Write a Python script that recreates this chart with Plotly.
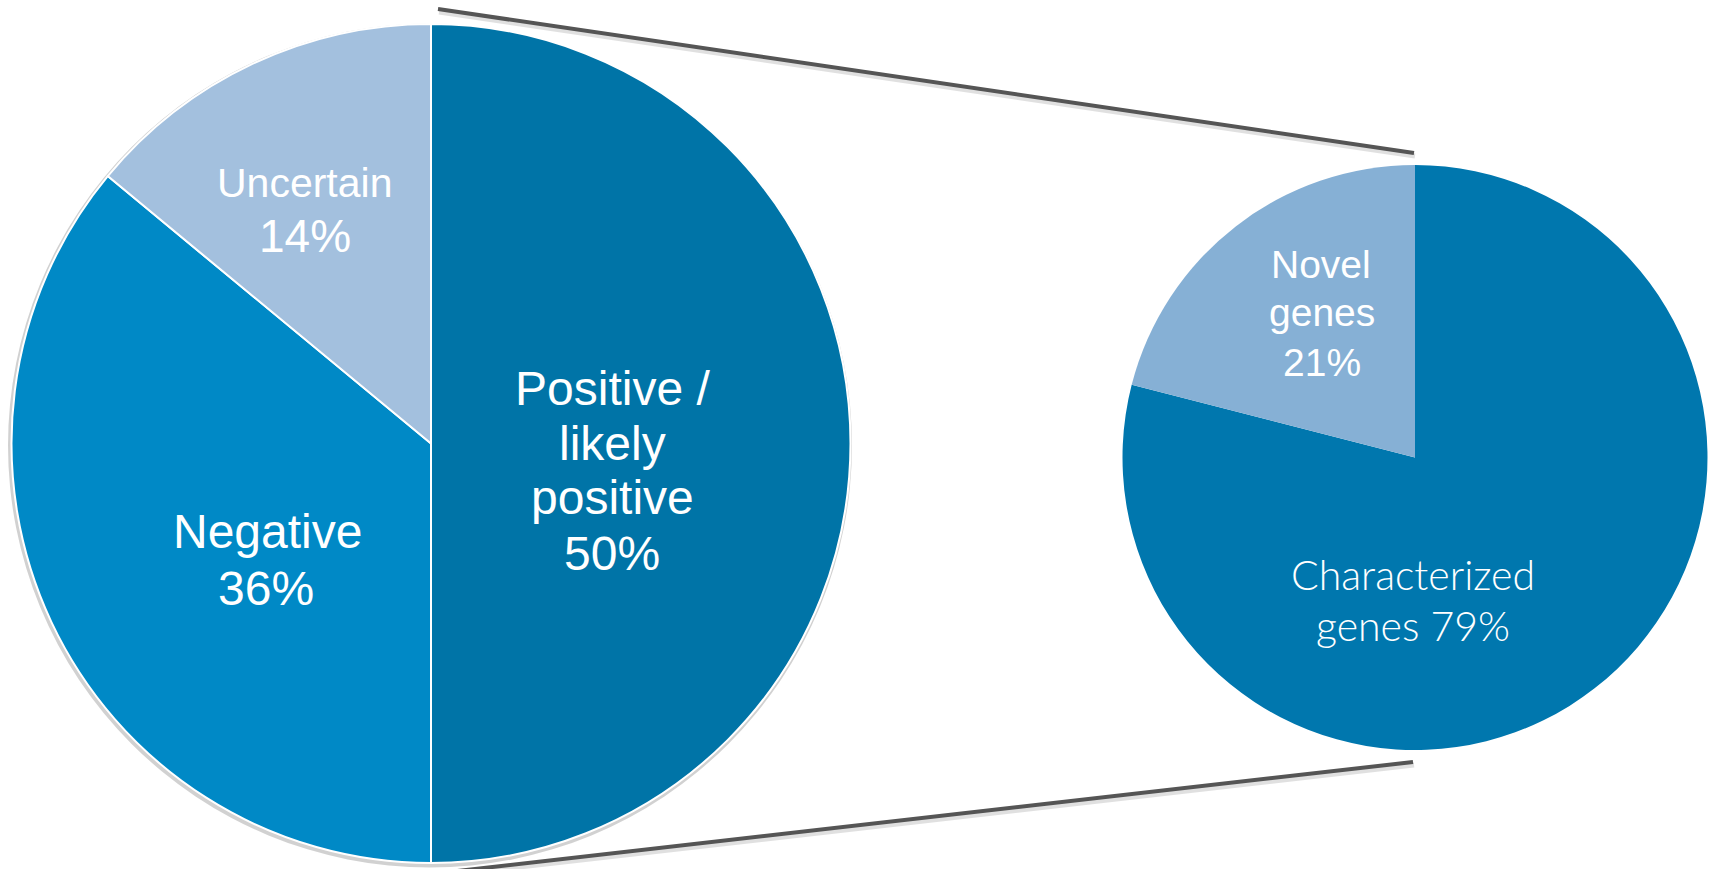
import plotly.graph_objects as go

W, H = 1717, 869

# ---------------- data ----------------
main_labels = ["Positive / likely positive", "Negative", "Uncertain"]
main_values = [50, 36, 14]
main_colors = ["#0074A7", "#0089C6", "#A3C0DE"]

sub_labels = ["Characterized genes", "Novel genes"]
sub_values = [79, 21]
sub_colors = ["#0077AE", "#86B0D5"]

# text lines shown inside slices
main_text_lines = [["Positive /", "likely", "positive", "50%"],
                   ["Negative", "36%"],
                   ["Uncertain", "14%"]]
sub_text_lines = [["Characterized", "genes 79%"],
                  ["Novel", "genes", "21%"]]


def px(x):
    return x / W


def py(y):
    return 1 - y / H


fig = go.Figure()

# left pie: centre (431, 443.5), radius 419.5
fig.add_trace(go.Pie(
    labels=main_labels, values=main_values, sort=False, direction="clockwise",
    rotation=0, textinfo="none", hoverinfo="skip", showlegend=False,
    marker=dict(colors=main_colors, line=dict(color="white", width=2)),
    domain=dict(x=[px(11.5), px(850.5)], y=[py(863), py(24)]),
))

# right pie: centre (1415, 457.5), radius 292.5
fig.add_trace(go.Pie(
    labels=sub_labels, values=sub_values, sort=False, direction="clockwise",
    rotation=0, textinfo="none", hoverinfo="skip", showlegend=False,
    marker=dict(colors=sub_colors, line=dict(color="white", width=0)),
    domain=dict(x=[px(1122.5), px(1707.5)], y=[py(750), py(165)]),
))

# ---------------- connector lines & shadows ----------------
shapes = []
# soft shadow behind left pie
shapes.append(dict(type="circle", xref="paper", yref="paper", layer="below",
                   x0=px(431 - 423), x1=px(431 + 421), y0=py(443.5 + 424), y1=py(443.5 - 420),
                   fillcolor="rgba(0,0,0,0.18)", line=dict(width=0)))
# line shadows
for (x0, y0, x1, y1) in [(438, 9, 1414, 153), (431, 874, 1413, 762)]:
    shapes.append(dict(type="line", xref="paper", yref="paper", layer="below",
                       x0=px(x0 + 1), y0=py(y0 + 3), x1=px(x1 + 1), y1=py(y1 + 3),
                       line=dict(color="rgba(0,0,0,0.12)", width=5)))
    shapes.append(dict(type="line", xref="paper", yref="paper", layer="above",
                       x0=px(x0), y0=py(y0), x1=px(x1), y1=py(y1),
                       line=dict(color="#555555", width=4)))

# ---------------- labels ----------------
annotations = []
arial = "Liberation Sans, Arial, sans-serif"
lato = "Lato, sans-serif"
# (x, y, size) for each text line
main_pos = [
    [(612, 388, 48), (612, 443, 48), (612, 497, 48), (612, 553, 48)],
    [(267, 531, 48), (266, 588, 48)],
    [(304, 183, 41), (305, 236, 46)],
]
sub_pos = [
    [(1413, 574, 41), (1413, 625, 41)],
    [(1321, 264, 39), (1322, 312, 39), (1322, 362, 39)],
]
for lines, pos in zip(main_text_lines, main_pos):
    for t, (x, y, s) in zip(lines, pos):
        annotations.append(dict(text=t, x=px(x), y=py(y), xref="paper", yref="paper",
                                xanchor="center", yanchor="middle", showarrow=False,
                                font=dict(family=arial, size=s, color="white")))
for i, (lines, pos) in enumerate(zip(sub_text_lines, sub_pos)):
    fam = lato if i == 0 else arial
    for t, (x, y, s) in zip(lines, pos):
        annotations.append(dict(text=t, x=px(x), y=py(y), xref="paper", yref="paper",
                                xanchor="center", yanchor="middle", showarrow=False,
                                font=dict(family=fam, size=s, color="white",
                                          weight=300 if i == 0 else 400)))

fig.update_layout(
    width=W, height=H, autosize=False,
    margin=dict(l=0, r=0, t=0, b=0),
    paper_bgcolor="white", plot_bgcolor="white",
    shapes=shapes, annotations=annotations,
)

fig.write_html("out.html")
